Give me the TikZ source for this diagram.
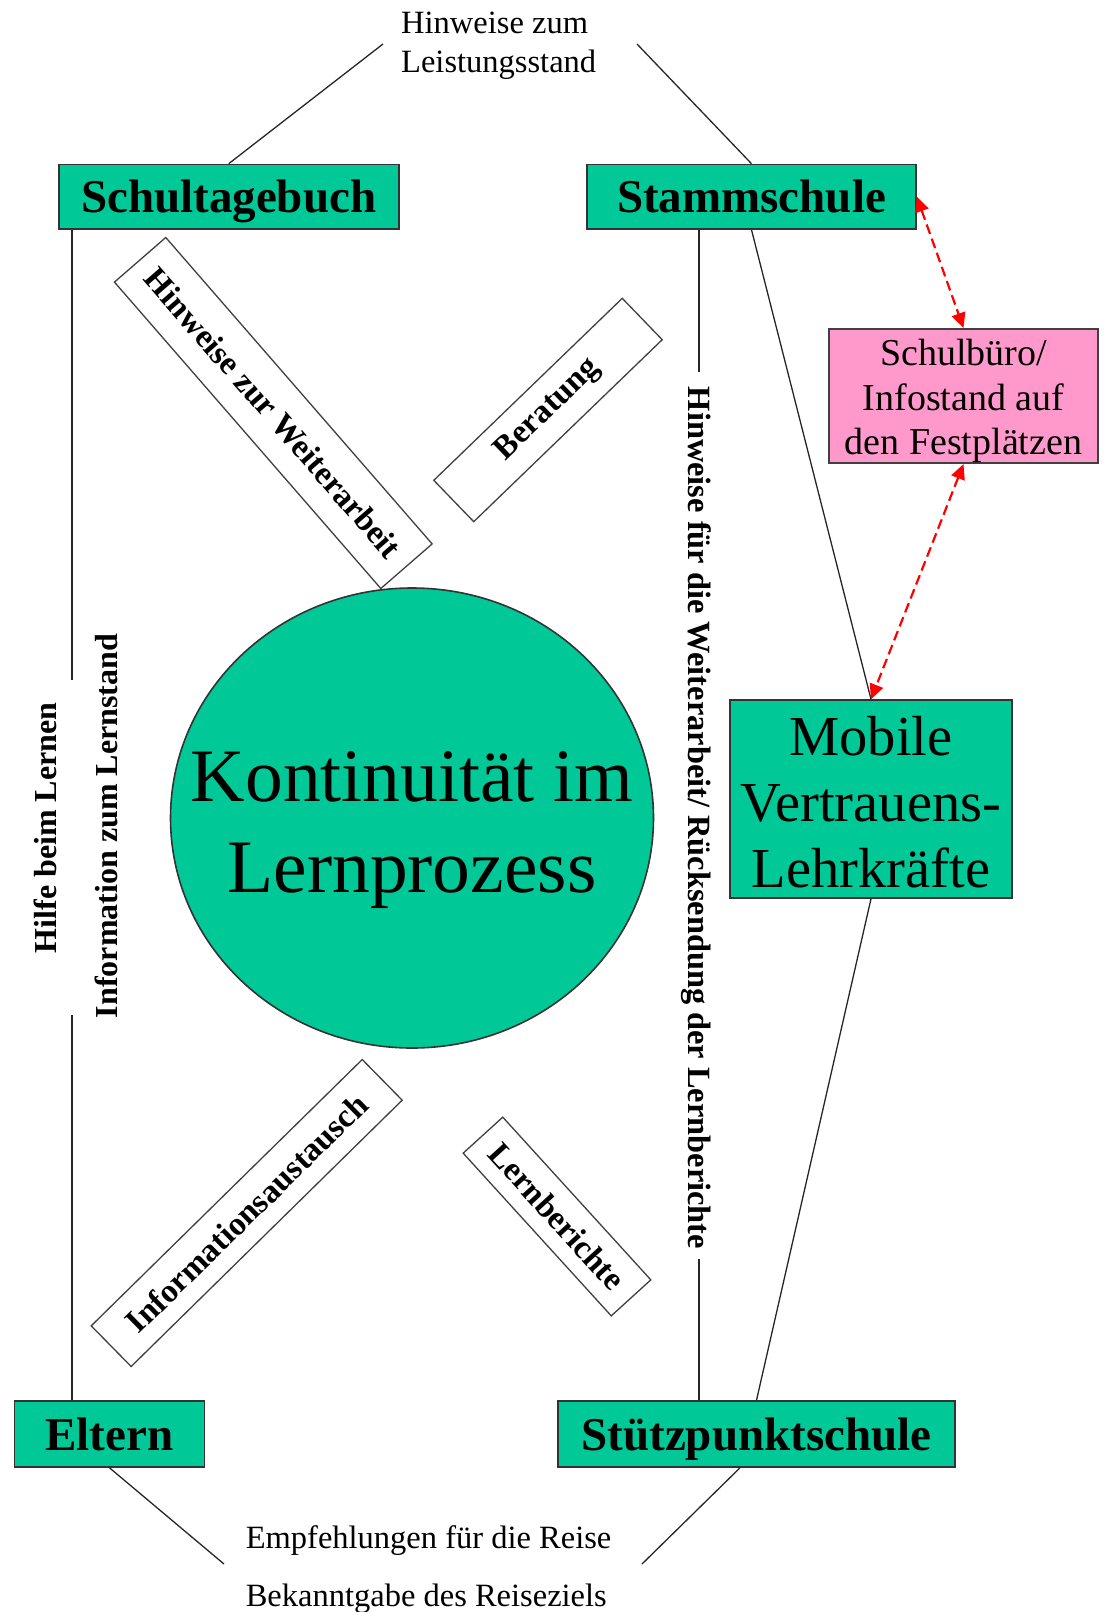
\documentclass[tikz,border=0pt]{standalone}
\usepackage{fontspec}
\setmainfont{Liberation Serif}
\usetikzlibrary{arrows.meta,shapes.geometric,calc}
\definecolor{boxgreen}{RGB}{0,200,150}
\definecolor{boxpink}{RGB}{255,153,204}

\begin{document}
\begin{tikzpicture}[x=1pt,y=-1pt,
  greenbox/.style={draw=black!80, line width=1.6pt, fill=boxgreen, inner sep=0pt},
  greenlabel/.style={greenbox, text height=40pt, text depth=8pt,
    font=\fontsize{47}{55}\selectfont\bfseries},
  pinkbox/.style={draw=black!75, line width=1.6pt, fill=boxpink, inner sep=0pt},
  diagbox/.style={draw=black!75, line width=1.3pt, fill=white, inner sep=0pt,
    font=\fontsize{33}{38}\selectfont\bfseries},
  vlabel/.style={inner sep=0pt, font=\fontsize{32}{38}\selectfont\bfseries},
  plainlabel/.style={inner sep=0pt, font=\fontsize{32.5}{39}\selectfont},
  conn/.style={draw=black!85, line width=1.3pt},
  redarr/.style={draw=red, line width=2.2pt, dash pattern=on 10pt off 5pt,
    {Triangle[length=15pt,width=14pt]}-{Triangle[length=15pt,width=14pt]}}
]
\useasboundingbox (0,0) rectangle (1108,1612);

% anchor coordinates for line ends
\coordinate (lx) at (72,0);
\coordinate (rx) at (699,0);
\coordinate (bx) at (740,0);
\coordinate (tl) at (383,44);
\coordinate (tr) at (637,44);
\coordinate (l1) at (72,680);
\coordinate (l2) at (72,1015);
\coordinate (r1) at (699,372);
\coordinate (r2) at (699,1259);
\coordinate (bl) at (224,1564);
\coordinate (br) at (642,1564);

% main boxes
\node[greenlabel, minimum width=340pt, minimum height=64.5pt] (schul) at (228.7,196.75) {Schultagebuch};
\node[greenlabel, minimum width=329pt, minimum height=64.5pt] (stamm) at (751.5,196.75) {Stammschule};
\node[greenlabel, minimum width=190pt, minimum height=66pt] (eltern) at (109.5,1434) {Eltern};
\node[greenlabel, minimum width=397pt, minimum height=66pt] (stuetz) at (756.5,1434) {Stützpunktschule};

\node[pinkbox, minimum width=269pt, minimum height=134.5pt] (buero) at (963.5,396) {};
\node[inner sep=0pt, align=center, font=\fontsize{38}{44.5}\selectfont] (buerotext)
  at ($(buero.center)+(0,5)$) {Schulbüro/\\Infostand auf\\den Festplätzen};

\node[greenbox, minimum width=282pt, minimum height=198pt] (mobile) at (871,799) {};
\node[inner sep=0pt, align=center, font=\fontsize{56.5}{66}\selectfont] (mobiletext)
  at ($(mobile.center)+(0,3)$) {Mobile\\Vertrauens-\\Lehrkräfte};

\node[ellipse, draw=black!80, line width=1.6pt, fill=boxgreen, inner sep=0pt,
  minimum width=483pt, minimum height=460pt] (kont) at (412,818) {};
\node[inner sep=0pt, align=center, font=\fontsize{75.5}{90.5}\selectfont] (konttext)
  at ($(kont.center)+(0,12)$) {Kontinuität im\\Lernprozess};

% labels on the connections
\node[plainlabel, align=left, anchor=west] (lstand) at (401,46) {Hinweise zum\\Leistungsstand};
\node[plainlabel, anchor=west] (empf) at (245.6,1541) {Empfehlungen für die Reise};
\node[plainlabel, anchor=west] (reiseziel) at (245.6,1599) {Bekanntgabe des Reiseziels};
\node[vlabel, rotate=90] (hilfe) at (45,828) {Hilfe beim Lernen};
\node[vlabel, rotate=90] (infostand) at (106,826) {Information zum Lernstand};
\node[vlabel, rotate=-90, font=\fontsize{32.4}{38}\selectfont\bfseries] (rueck) at (696,818)
  {Hinweise für die Weiterarbeit/ Rücksendung der Lernberichte};

% tilted boxes around the circle
\node[diagbox, minimum width=406pt, minimum height=68pt, rotate=-49] (hzw) at (273.3,413) {Hinweise zur Weiterarbeit};
\node[diagbox, minimum width=262pt, minimum height=57.5pt, rotate=44] (ber) at (548,410) {Beratung};
\node[diagbox, minimum width=380pt, minimum height=57pt, rotate=44.5] (infaus) at (246.7,1213) {Informationsaustausch};
\node[diagbox, minimum width=220pt, minimum height=53.5pt, rotate=-47.7] (lernb) at (557,1216.5) {Lernberichte};

% connectors
\draw[conn] (schul.north) -- (tl);
\draw[conn] (stamm.north) -- (tr);
\draw[conn] (schul.south -| lx) -- (l1);
\draw[conn] (l2) -- (eltern.north -| lx);
\draw[conn] (stamm.south -| rx) -- (r1);
\draw[conn] (r2) -- (stuetz.north -| rx);
\draw[conn] (stamm.south) -- (mobile.north);
\draw[conn] (mobile.south) -- (stuetz.north);
\draw[conn] (eltern.south) -- (bl);
\draw[conn] (stuetz.south -| bx) -- (br);
\draw[redarr] (stamm.east) -- (buero.north);
\draw[redarr] (buero.south) -- (mobile.north);
\end{tikzpicture}
\end{document}
